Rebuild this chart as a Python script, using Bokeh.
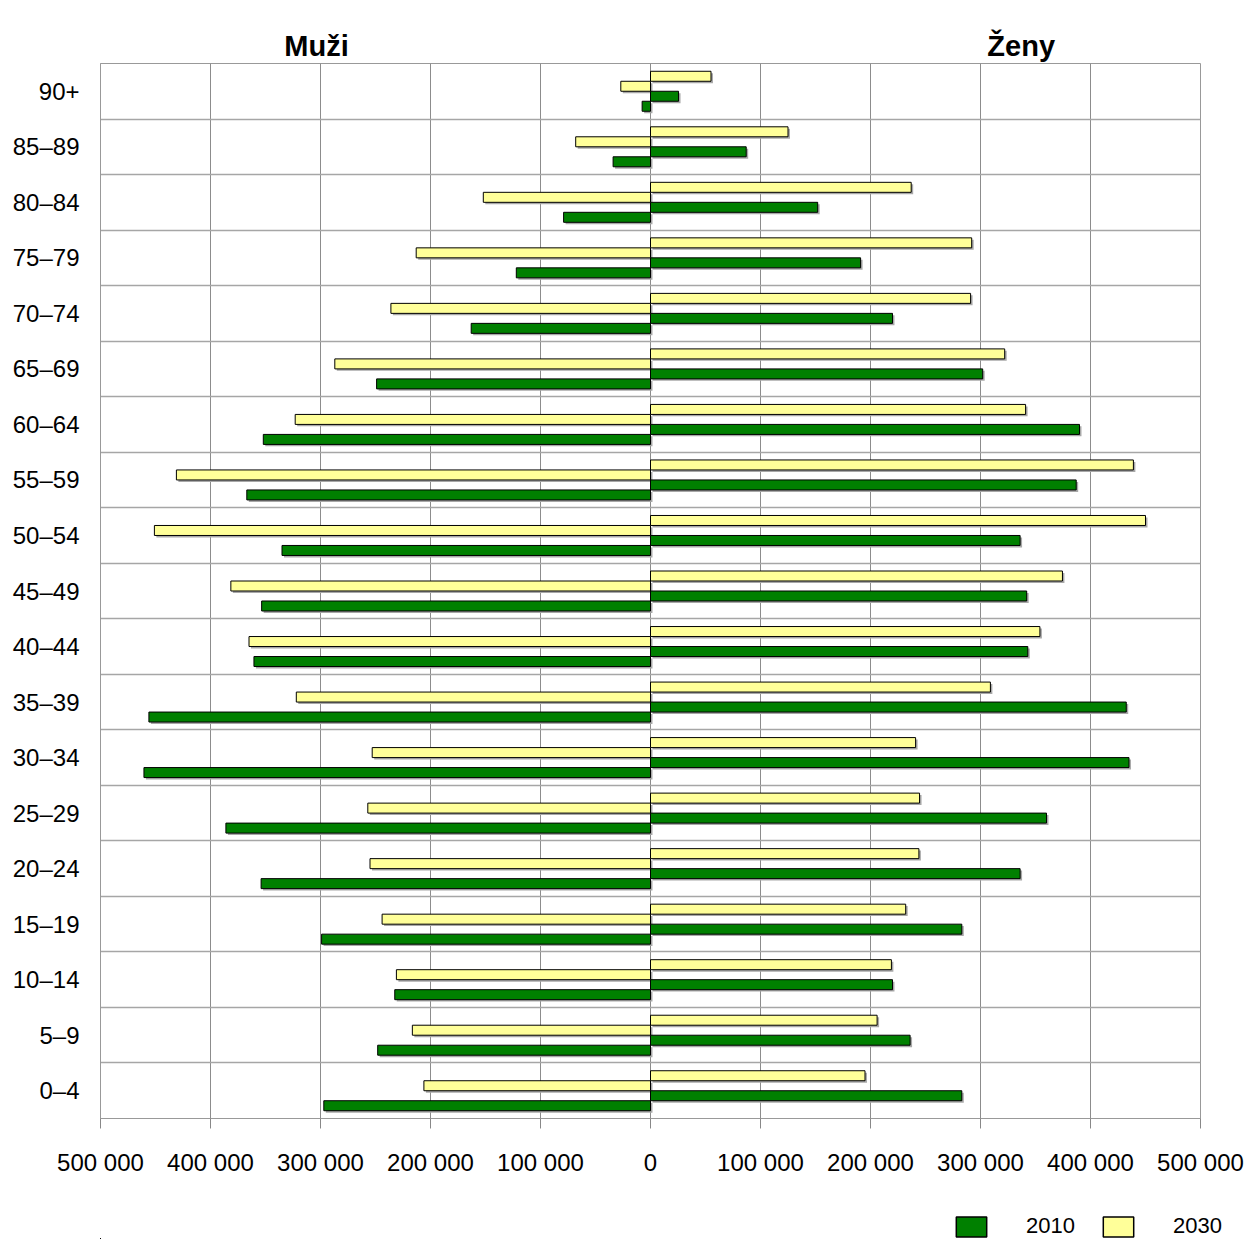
from bokeh.plotting import figure
from bokeh.models import (ColumnDataSource, FixedTicker, Range1d, Legend, LegendItem)
from bokeh.transform import dodge
from bokeh.layouts import column
from bokeh.embed import file_html
from bokeh.resources import INLINE
from bokeh.core.properties import value

# age groups, bottom to top
ages = ["0–4", "5–9", "10–14", "15–19", "20–24", "25–29", "30–34", "35–39", "40–44",
        "45–49", "50–54", "55–59", "60–64", "65–69", "70–74", "75–79", "80–84", "85–89", "90+"]

men_2010 = [297000, 248000, 232500, 299000, 354000, 386000, 460500, 456000, 360500,
            353500, 335000, 367000, 352000, 249000, 163000, 122000, 79000, 34000, 7600]
men_2030 = [206000, 216500, 231000, 244000, 255000, 257000, 253000, 322000, 365000,
            381500, 451000, 431000, 323000, 287000, 236000, 213000, 152000, 68000, 27000]
women_2010 = [283000, 236000, 220000, 283000, 336000, 360000, 435000, 432500, 343000,
              342000, 336000, 387000, 390000, 302000, 220000, 191000, 152000, 87000, 25500]
women_2030 = [195000, 206000, 219000, 232000, 244000, 244600, 241000, 309000, 354000,
              374500, 450000, 439000, 341000, 322000, 291000, 292000, 237000, 125000, 55000]

x_ticks = [-500000, -400000, -300000, -200000, -100000, 0, 100000, 200000, 300000, 400000, 500000]
series_years = ["2010", "2030"]
side_titles = ["Muži", "Ženy"]
side_title_x = [-303600, 337000]
colors = {"2010": "#008000", "2030": "#FFFF99"}

FONT = "'Liberation Sans', Arial, sans-serif"
FRAME_W = 1100
FRAME_H = 1055
LEFT = 100
RIGHT = 47
TOP_H = 63
BOTTOM_AXIS = 60
LEGEND_H = 61

x_range = Range1d(-500000, 500000)

# ---- top strip with the side titles ----
top = figure(frame_width=FRAME_W, frame_height=TOP_H, output_backend="svg", toolbar_location=None,
             x_range=x_range, y_range=Range1d(0, TOP_H),
             min_border_left=LEFT, min_border_right=RIGHT, min_border_top=0, min_border_bottom=0)
top.axis.visible = False
top.grid.visible = False
top.outline_line_color = None
tsrc = ColumnDataSource(dict(x=side_title_x, y=[18, 18], t=side_titles))
top.text(x="x", y="y", text="t", source=tsrc, text_align="center", text_baseline="alphabetic",
         text_font=value(FONT), text_font_style="bold", text_font_size="29px", text_color="black")

# ---- main pyramid ----
src = ColumnDataSource(dict(
    y=[i + 0.5 for i in range(len(ages))],
    zero=[0] * len(ages),
    m2010=[-v for v in men_2010],
    m2030=[-v for v in men_2030],
    w2010=women_2010,
    w2030=women_2030,
))

p = figure(frame_width=FRAME_W, frame_height=FRAME_H, output_backend="svg", toolbar_location=None,
           x_range=x_range, y_range=Range1d(0, len(ages)),
           min_border_left=LEFT, min_border_right=RIGHT, min_border_top=0,
           min_border_bottom=BOTTOM_AXIS)

BH = 0.18
offsets = {"w2030": 0.27, "m2030": 0.09, "w2010": -0.09, "m2010": -0.27}
SH_X = 1800
SH_Y = -0.035
keys = ["w2030", "m2030", "w2010", "m2010"]

def ends(key):
    return (key, "zero") if key.startswith("m") else ("zero", key)

for key in keys:
    left, right = ends(key)
    p.hbar(y=dodge("y", offsets[key] + SH_Y, range=p.y_range), height=BH,
           left=dodge(left, SH_X), right=dodge(right, SH_X), source=src,
           fill_color="#a8a8a8", line_color=None)

for key in keys:
    left, right = ends(key)
    p.hbar(y=dodge("y", offsets[key], range=p.y_range), height=BH,
           left=left, right=right, source=src,
           fill_color=colors[key[1:]], line_color="black", line_width=1)

# axes
p.xaxis.ticker = FixedTicker(ticks=x_ticks)
p.xaxis.major_label_overrides = {t: f"{abs(t):,}".replace(",", " ") for t in x_ticks}
p.xaxis.major_label_text_font = FONT
p.xaxis.major_label_text_font_size = "24px"
p.xaxis.major_label_text_color = "black"
p.xaxis.major_tick_out = 10
p.xaxis.major_tick_in = 0
p.xaxis.major_tick_line_color = "#888888"
p.xaxis.minor_tick_line_color = None
p.xaxis.axis_line_color = "#999999"
p.xaxis.major_label_standoff = 20

p.yaxis.ticker = FixedTicker(ticks=[i + 0.5 for i in range(len(ages))])
p.yaxis.major_label_overrides = {i + 0.5: a for i, a in enumerate(ages)}
p.yaxis.major_label_text_font = FONT
p.yaxis.major_label_text_font_size = "24px"
p.yaxis.major_label_text_color = "black"
p.yaxis.major_tick_line_color = None
p.yaxis.minor_tick_line_color = None
p.yaxis.axis_line_color = "#999999"
p.yaxis.major_label_standoff = 15

p.xgrid.ticker = FixedTicker(ticks=x_ticks)
p.xgrid.grid_line_color = "#8c8c8c"
p.xgrid.grid_line_width = 1
p.ygrid.ticker = FixedTicker(ticks=list(range(len(ages) + 1)))
p.ygrid.grid_line_color = "#a6a6a6"
p.ygrid.grid_line_width = 1.5
p.outline_line_color = "#999999"

# ---- bottom strip with the legend (its bars lie far outside its ranges) ----
bot = figure(frame_width=FRAME_W + RIGHT, frame_height=LEGEND_H, output_backend="svg",
             toolbar_location=None, x_range=Range1d(5e6, 6e6), y_range=Range1d(1000, 1001),
             min_border_left=LEFT, min_border_right=0, min_border_top=0, min_border_bottom=0)
bot.axis.visible = False
bot.grid.visible = False
bot.outline_line_color = None
leg_r = [bot.hbar(y="y", left="zero", right="w" + yr, height=BH, source=src,
                  fill_color=colors[yr], line_color="black", line_width=1.5)
         for yr in series_years]
legend = Legend(items=[LegendItem(label=yr, renderers=[r]) for yr, r in zip(series_years, leg_r)],
                orientation="horizontal", location=(852, 0),
                glyph_width=38, glyph_height=25, label_standoff=36, spacing=24,
                padding=0, margin=0, border_line_color=None, background_fill_alpha=0,
                label_text_font=FONT, label_text_font_size="22px", label_text_color="black")
bot.add_layout(legend, "center")

layout = column(top, p, bot, spacing=0)
open("out.html", "w").write(file_html(layout, INLINE))
